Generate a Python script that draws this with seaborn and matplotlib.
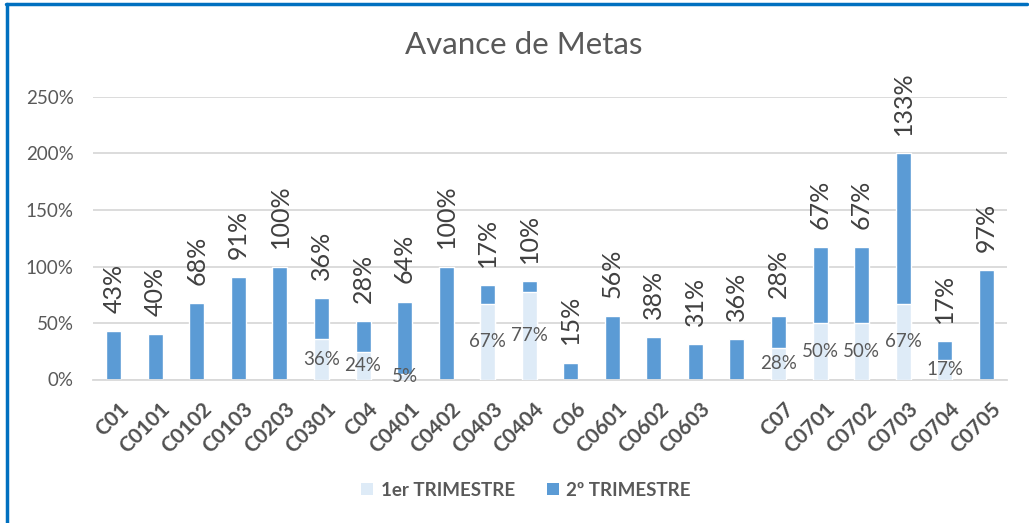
import matplotlib
matplotlib.use("Agg")
import matplotlib.pyplot as plt
import matplotlib.transforms as mtransforms
import seaborn as sns
import pandas as pd
import numpy as np
from matplotlib.patches import Patch

categories = ["C01", "C0101", "C0102", "C0103", "C0203", "C0301", "C04", "C0401",
              "C0402", "C0403", "C0404", "C06", "C0601", "C0602", "C0603", "",
              "C07", "C0701", "C0702", "C0703", "C0704", "C0705"]
trim1 = [0, 0, 0, 0, 0, 36, 24, 5, 0, 67, 77, 0, 0, 0, 0, 0,
         28, 50, 50, 67, 17, 0]
trim2 = [43, 40, 68, 91, 100, 36, 28, 64, 100, 17, 10, 15, 56, 38, 31, 36,
         28, 67, 67, 133, 17, 97]
series_names = ["1er TRIMESTRE", "2º TRIMESTRE"]
yticks = [0, 50, 100, 150, 200, 250]
title = "Avance de Metas"

dark = "#5B9BD5"
light = "#DEEBF7"
grid = "#D9D9D9"
txt = "#595959"

sns.set_theme(style="white")
plt.rcParams['font.family'] = ['Lato', 'DejaVu Sans']

df = pd.DataFrame({"cat": categories, "t1": trim1, "t2": trim2})
df["total"] = df["t1"] + df["t2"]

fig = plt.figure(figsize=(10.29, 5.23), dpi=100)
ax = fig.add_axes([93/1029, 1-379.5/523, 914/1029, 282.5/523])

sns.barplot(data=df, x="cat", y="total", order=categories, color=dark,
            saturation=1, width=0.36, ax=ax, zorder=2)
sns.barplot(data=df, x="cat", y="t1", order=categories, color=light,
            saturation=1, width=0.36, ax=ax, zorder=3)

ax.set_ylim(0, 250)
ax.set_xlim(-0.5, len(categories) - 0.5)
ax.set_yticks(yticks)
ax.set_yticklabels([f"{v}%" for v in yticks], color=txt, fontsize=13.5)
ax.set_xticks(range(len(categories)))
ax.set_xticklabels(categories, rotation=45, ha="right", rotation_mode="anchor",
                   fontsize=15, fontweight="bold", color="#505050")
ax.tick_params(axis="y", length=0, pad=14)
ax.tick_params(axis="x", length=0, pad=14)
shift = mtransforms.ScaledTranslation(3.5/72, 0, fig.dpi_scale_trans)
for lbl in ax.get_xticklabels():
    lbl.set_transform(lbl.get_transform() + shift)
ax.set_xlabel("")
ax.set_ylabel("")
ax.yaxis.grid(True, color=grid, linewidth=1.3, zorder=0)
ax.set_axisbelow(True)
for s in ["top", "right", "left"]:
    ax.spines[s].set_visible(False)
ax.spines["bottom"].set_color(grid)
ax.spines["bottom"].set_linewidth(1.3)

for i, (a, b) in enumerate(zip(trim1, trim2)):
    tot = a + b
    ax.annotate(f"{b}%", xy=(i, tot), xytext=(0, 13), textcoords="offset points",
                rotation=90, ha="center", va="bottom", fontsize=18,
                color="#404040", zorder=5)
    if a > 0:
        ax.text(i, a / 2, f"{a}%", ha="center", va="center", fontsize=13.5,
                color=txt, zorder=5)

fig.text(0.509, 0.914, title, ha="center", va="center", fontsize=22.5, color=txt)

handles = [Patch(facecolor=light, edgecolor="none"), Patch(facecolor=dark, edgecolor="none")]
leg = fig.legend(handles, series_names, loc="center", bbox_to_anchor=(0.511, 0.063),
                 ncol=2, frameon=False, handlelength=0.65, handleheight=0.65,
                 handletextpad=0.4, columnspacing=1.7,
                 prop={"weight": "bold", "size": 13.5})
for t in leg.get_texts():
    t.set_color(txt)

# outer blue frame (top and left edges visible in reference)
fig.add_artist(plt.Line2D([6/1029, 1027/1029], [1-4/523, 1-4/523], transform=fig.transFigure,
                          color="#0070C0", linewidth=2.5))
fig.add_artist(plt.Line2D([7/1029, 7/1029], [0, 1-4/523], transform=fig.transFigure,
                          color="#0070C0", linewidth=2.5))

fig.savefig("out.png", dpi=100)
